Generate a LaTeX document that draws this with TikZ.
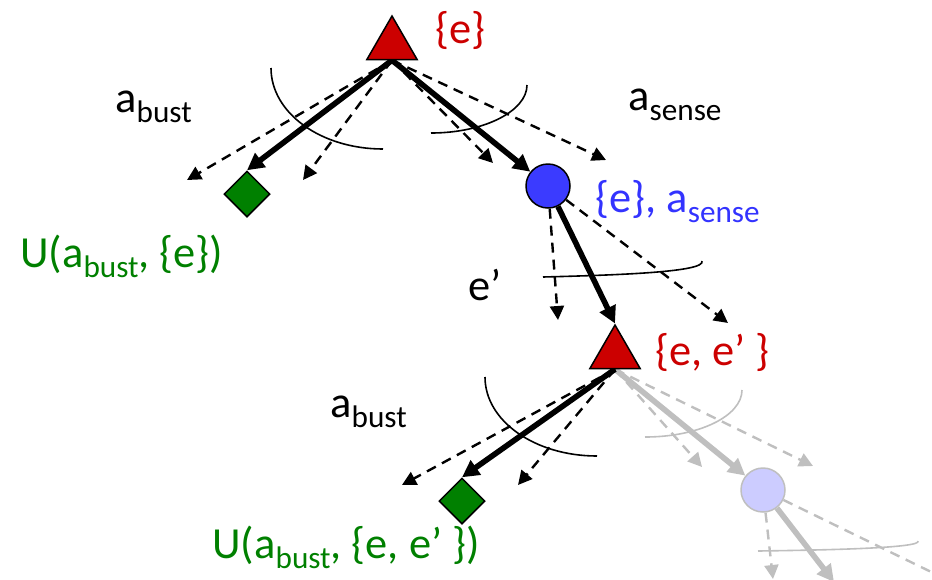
\documentclass[tikz,border=0pt]{standalone}
\usepackage{fontspec}
\setmainfont{Carlito}
\usetikzlibrary{arrows.meta, shapes.geometric, backgrounds}
\definecolor{nodeRed}{HTML}{CC0000}
\definecolor{nodeGreen}{HTML}{008000}
\definecolor{nodeBlue}{HTML}{3B3BFF}
\definecolor{txtBlue}{HTML}{3333FF}
\definecolor{fadeBlue}{HTML}{CCCCFF}
\definecolor{fadeGray}{HTML}{BFBFBF}
\newcommand{\lowtxt}[1]{\raisebox{-5pt}{\fontsize{15.6}{17}\selectfont #1}}

\begin{document}
\begin{tikzpicture}[x=0.5pt, y=-0.5pt,
        font=\fontsize{22.2}{26}\selectfont,
        lbl/.style={anchor=base west, inner sep=0pt},
        act/.style={regular polygon, regular polygon sides=3, minimum size=29pt, inner sep=0pt,
            draw, line width=0.75pt, fill=nodeRed},
        leaf/.style={diamond, minimum size=23pt, inner sep=0pt, draw, line width=0.75pt, fill=nodeGreen},
        obs/.style={circle, minimum size=22pt, inner sep=0pt, draw, line width=0.75pt, fill=nodeBlue},
        best/.style={-{Triangle[length=8.5pt, width=8.5pt]}, line width=2.8pt},
        alt/.style={-{Triangle[length=7pt, width=7pt]}, line width=1.2pt, dash pattern=on 5pt off 3.5pt},
        sweep/.style={line width=0.8pt},
        faded/.style={draw=fadeGray, color=fadeGray}
    ]
    \useasboundingbox (0,0) rectangle (932,579);
    \clip (0,0) rectangle (932,579);

    \node[act] (root) at (392,45) {};
    \node[leaf] (bust1) at (247,194) {};
    \node[obs] (sense) at (548,186) {};
    \node[act] (mid) at (615,354) {};
    \node[leaf] (bust2) at (462,501) {};
    \node[obs, faded, fill=fadeBlue] (next) at (763,490) {};

    \node[lbl, text=nodeRed] (rootlbl) at (435,43) {\{e\}};
    \node[lbl] (bustlbl1) at (115,112) {a\lowtxt{bust}};
    \node[lbl] (senselbl) at (628,110) {a\lowtxt{sense}};
    \node[lbl, text=txtBlue] (obslbl) at (595,212) {\{e\}, a\lowtxt{sense}};
    \node[lbl, text=nodeGreen] (util1) at (20,267) {U(a\lowtxt{bust}, \{e\})};
    \node[lbl] (evlbl) at (468,300) {e’};
    \node[lbl, text=nodeRed] (midlbl) at (655,365) {\{e, e’\ \}};
    \node[lbl] (bustlbl2) at (330,417) {a\lowtxt{bust}};
    \node[lbl, text=nodeGreen] (util2) at (212,558) {U(a\lowtxt{bust}, \{e, e’\ \})};

    \coordinate (r1) at (187,180);
    \coordinate (r2) at (303,180);
    \coordinate (r3) at (493,163);
    \coordinate (r4) at (606,160);
    \coordinate (s1) at (558,320);
    \coordinate (s2) at (728,323);
    \coordinate (m1) at (402,485);
    \coordinate (m2) at (518,485);
    \coordinate (m3) at (702,467);
    \coordinate (m4) at (813,466);
    \coordinate (n1) at (773,579);
    \coordinate (n2) at (834,582);
    \coordinate (n3) at (960,586);

    \begin{scope}[on background layer]
        \draw[best] (root.side 2) -- (bust1.north);
        \draw[alt] (root.side 2) -- (r1);
        \draw[alt] (root.side 2) -- (r2);
        \draw[alt] (root.side 2) -- (r3);
        \draw[alt] (root.side 2) -- (r4);
        \draw[best] (root.side 2) -- (sense);

        \draw[alt] (sense) -- (s1);
        \draw[best] (sense) -- (mid.corner 1);
        \draw[alt] (sense) -- (s2);

        \draw[best, faded] (mid.side 2) -- (next);
        \draw[alt, faded] (mid.side 2) -- (m3);
        \draw[alt, faded] (mid.side 2) -- (m4);
        \draw[best] (mid.side 2) -- (bust2.north);
        \draw[alt] (mid.side 2) -- (m1);
        \draw[alt] (mid.side 2) -- (m2);

        \draw[alt, faded] (next) -- (n1);
        \draw[best, faded] (next) -- (n2);
        \draw[alt, faded] (next) -- (n3);
    \end{scope}

    % sweeps over the branches
    \draw[sweep] (271,68) .. controls (271,113) and (321,149) .. (383,149);
    \draw[sweep] (527,85) .. controls (527,111) and (484,133) .. (431,133);
    \draw[sweep] (543,277) .. controls (620,275) and (706,272) .. (702,261);
    \draw[sweep] (485,377) .. controls (485,421) and (535,456) .. (597,456);
    \draw[sweep, faded] (742,390) .. controls (742,416) and (699,437) .. (645,437);
    \draw[sweep, faded] (758,551) .. controls (830,550) and (922,548) .. (918,541);
\end{tikzpicture}
\end{document}
